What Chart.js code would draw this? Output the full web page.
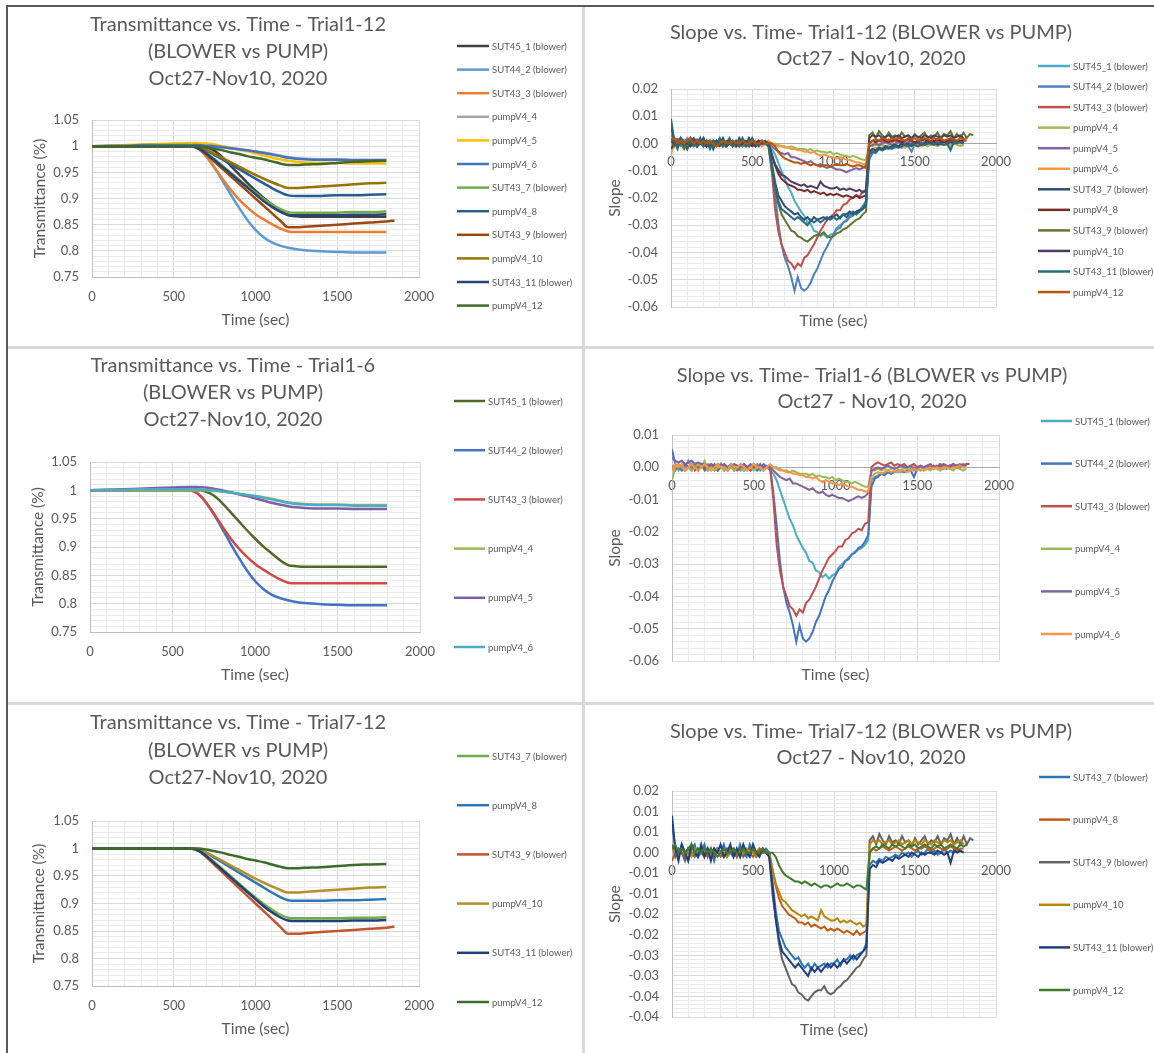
<!DOCTYPE html>
<html>
<head>
<meta charset="utf-8">
<script src="https://cdn.jsdelivr.net/npm/chart.js@4.4.1/dist/chart.umd.min.js"></script>
<style>
  html, body { margin: 0; padding: 0; background: #fff; }
  body { width: 1154px; height: 1053px; position: relative; overflow: hidden; }
  .panel { position: absolute; }
  .panel canvas { display: block; }
  .line { position: absolute; z-index: 5; }
</style>
</head>
<body>
<div class="panel" style="left:7px;top:6px"><canvas id="c1" width="576" height="341"></canvas></div>
<div class="panel" style="left:584px;top:6px"><canvas id="c2" width="570" height="341"></canvas></div>
<div class="panel" style="left:7px;top:348px"><canvas id="c3" width="576" height="355"></canvas></div>
<div class="panel" style="left:584px;top:348px"><canvas id="c4" width="570" height="355"></canvas></div>
<div class="panel" style="left:7px;top:704px"><canvas id="c5" width="576" height="349"></canvas></div>
<div class="panel" style="left:584px;top:704px"><canvas id="c6" width="570" height="349"></canvas></div>

<div class="line" style="left:8px;top:346px;width:1146px;height:3px;background:#d9d9d9"></div>
<div class="line" style="left:8px;top:702px;width:1146px;height:3px;background:#d9d9d9"></div>
<div class="line" style="left:582px;top:7px;width:3px;height:1046px;background:#d9d9d9"></div>
<div class="line" style="left:6px;top:5px;width:1148px;height:2px;background:#5a5a5a"></div>
<div class="line" style="left:6px;top:5px;width:2px;height:1048px;background:#5a5a5a"></div>

<script>
// series names (trials 1-12)
const seriesNames = ['SUT45_1 (blower)', 'SUT44_2 (blower)', 'SUT43_3 (blower)', 'pumpV4_4', 'pumpV4_5', 'pumpV4_6',
  'SUT43_7 (blower)', 'pumpV4_8', 'SUT43_9 (blower)', 'pumpV4_10', 'SUT43_11 (blower)', 'pumpV4_12'];

// transmittance readings
const transTime = [0, 100, 200, 300, 400, 500, 600, 650, 700, 750, 800, 850, 900, 950, 1000, 1050, 1100, 1150, 1200, 1250, 1300, 1400, 1500, 1600, 1700, 1800, 1850];
const transSUT45_1 = [1.000, 1.000, 1.000, 1.000, 1.000, 1.000, 1.000, 1.000, 0.998, 0.991, 0.978, 0.962, 0.946, 0.930, 0.915, 0.901, 0.889, 0.877, 0.868, 0.866, 0.865, 0.865, 0.865, 0.865, 0.865, 0.865, null];
const transSUT44_2 = [1.000, 1.000, 1.000, 1.000, 1.000, 1.000, 1.000, 0.995, 0.980, 0.958, 0.933, 0.907, 0.882, 0.859, 0.840, 0.826, 0.816, 0.810, 0.806, 0.803, 0.801, 0.799, 0.798, 0.797, 0.797, 0.797, null];
const transSUT43_3 = [1.000, 1.000, 1.000, 1.000, 1.000, 1.000, 1.000, 0.995, 0.980, 0.959, 0.937, 0.916, 0.898, 0.883, 0.870, 0.860, 0.851, 0.843, 0.837, 0.836, 0.836, 0.836, 0.836, 0.836, 0.836, 0.836, null];
const transPump4 = [1.000, 1.000, 1.000, 1.000, 1.000, 1.000, 1.000, 1.000, 1.000, 0.999, 0.998, 0.996, 0.994, 0.992, 0.990, 0.988, 0.985, 0.982, 0.979, 0.977, 0.976, 0.975, 0.975, 0.974, 0.974, 0.974, null];
const transPump5 = [1.000, 1.001, 1.002, 1.003, 1.004, 1.005, 1.006, 1.006, 1.005, 1.003, 1.000, 0.997, 0.993, 0.990, 0.986, 0.982, 0.978, 0.975, 0.972, 0.970, 0.969, 0.968, 0.968, 0.967, 0.967, 0.967, null];
const transPump6 = [1.000, 1.001, 1.001, 1.002, 1.002, 1.002, 1.002, 1.002, 1.001, 1.000, 0.998, 0.996, 0.994, 0.992, 0.990, 0.987, 0.984, 0.981, 0.978, 0.976, 0.975, 0.974, 0.974, 0.973, 0.973, 0.973, null];
const transSUT43_7 = [1.000, 1.000, 1.000, 1.000, 1.000, 1.000, 1.000, 0.997, 0.987, 0.975, 0.962, 0.949, 0.936, 0.923, 0.911, 0.899, 0.889, 0.880, 0.874, 0.873, 0.873, 0.873, 0.873, 0.874, 0.874, 0.875, null];
const transPump8 = [1.000, 1.000, 1.000, 1.000, 1.000, 1.000, 1.000, 0.998, 0.992, 0.983, 0.974, 0.965, 0.956, 0.947, 0.938, 0.929, 0.920, 0.912, 0.906, 0.905, 0.905, 0.905, 0.906, 0.906, 0.907, 0.908, null];
const transSUT43_9 = [1.000, 1.000, 1.000, 1.000, 1.000, 1.000, 1.000, 0.996, 0.984, 0.970, 0.956, 0.942, 0.928, 0.914, 0.900, 0.886, 0.872, 0.858, 0.845, 0.845, 0.846, 0.848, 0.850, 0.852, 0.854, 0.856, 0.858];
const transPump10 = [1.000, 1.000, 1.000, 1.000, 1.000, 1.000, 1.000, 0.999, 0.993, 0.985, 0.977, 0.969, 0.961, 0.953, 0.945, 0.938, 0.931, 0.925, 0.920, 0.920, 0.921, 0.923, 0.925, 0.927, 0.929, 0.930, null];
const transSUT43_11 = [1.000, 1.000, 1.000, 1.000, 1.000, 1.000, 1.000, 0.996, 0.986, 0.973, 0.960, 0.947, 0.934, 0.921, 0.908, 0.895, 0.884, 0.875, 0.869, 0.868, 0.868, 0.868, 0.868, 0.869, 0.869, 0.870, null];
const transPump12 = [1.000, 1.000, 1.000, 1.000, 1.000, 1.000, 1.000, 1.000, 0.998, 0.995, 0.992, 0.988, 0.985, 0.981, 0.978, 0.975, 0.971, 0.967, 0.964, 0.964, 0.965, 0.966, 0.968, 0.970, 0.971, 0.972, null];

// slope readings
const slopeTime = [0, 20, 40, 60, 80, 100, 120, 140, 160, 180, 200, 220, 240, 260, 280, 300, 320, 340, 360, 380,
  400, 420, 440, 460, 480, 500, 520, 540, 560, 580, 600, 620, 640, 660, 680, 700, 720, 740, 760, 780,
  800, 820, 840, 860, 880, 900, 920, 940, 960, 980, 1000, 1020, 1040, 1060, 1080, 1100, 1120, 1140, 1160, 1180,
  1200, 1220, 1240, 1260, 1280, 1300, 1320, 1340, 1360, 1380, 1400, 1420, 1440, 1460, 1480, 1500, 1520, 1540, 1560, 1580,
  1600, 1620, 1640, 1660, 1680, 1700, 1720, 1740, 1760, 1780, 1800, 1820, 1840, 1860];
const slopeSUT45_1 = [
  0.000, 0.001, -0.001, 0.001, 0.000, 0.002, 0.000, 0.001, -0.001, 0.001,
  0.000, 0.001, 0.000, -0.001, 0.001, 0.000, 0.001, -0.001, 0.000, 0.001,
  0.000, -0.001, 0.001, 0.000, -0.001, 0.000, 0.001, -0.001, 0.000, 0.000,
  -0.001, -0.002, -0.004, -0.007, -0.010, -0.013, -0.016, -0.018, -0.021, -0.023,
  -0.025, -0.0265, -0.029, -0.0295, -0.032, -0.0325, -0.034, -0.0332, -0.0345, -0.0335,
  -0.033, -0.031, -0.030, -0.029, -0.028, -0.027, -0.026, -0.0255, -0.025, -0.024,
  -0.0225, -0.004, -0.003, -0.0025, -0.002, -0.002, -0.0015, -0.002, -0.0015, -0.001,
  -0.0015, -0.001, -0.001, -0.0005, -0.001, -0.0005, 0.000, -0.001, -0.0005, 0.000,
  -0.0005, 0.000, 0.0005, -0.0005, 0.000, 0.0005, 0.000, 0.000, 0.0005, 0.000,
  0.0005, null, null, null];
const slopeSUT44_2 = [
  0.0055, 0.001, 0.000, -0.001, 0.001, 0.000, -0.001, 0.001, 0.000, 0.001,
  -0.001, 0.000, 0.001, 0.000, -0.001, 0.001, -0.001, 0.000, 0.001, -0.001,
  0.000, 0.001, -0.001, 0.000, 0.001, 0.000, -0.001, 0.000, 0.001, 0.000,
  0.000, -0.008, -0.018, -0.029, -0.037, -0.042, -0.045, -0.049, -0.054, -0.049,
  -0.053, -0.054, -0.053, -0.051, -0.048, -0.046, -0.043, -0.040, -0.038, -0.0355,
  -0.0335, -0.0315, -0.031, -0.029, -0.0285, -0.027, -0.0265, -0.025, -0.0245, -0.023,
  -0.021, -0.006, -0.0035, -0.003, -0.002, -0.0025, -0.0015, -0.002, -0.001, -0.0015,
  -0.001, -0.0015, -0.001, -0.001, -0.003, -0.0005, -0.001, 0.000, -0.0005, 0.000,
  -0.0005, 0.000, 0.0005, 0.000, -0.0005, 0.0005, 0.000, 0.0005, 0.000, 0.0005,
  0.001, null, null, null];
const slopeSUT43_3 = [
  0.000, -0.001, 0.001, 0.000, -0.001, 0.000, 0.001, -0.001, 0.000, 0.001,
  0.000, -0.001, 0.000, 0.001, -0.001, 0.000, 0.000, -0.001, 0.001, 0.000,
  -0.001, 0.000, 0.001, 0.000, -0.001, 0.000, 0.000, 0.001, -0.001, 0.000,
  0.000, -0.010, -0.024, -0.032, -0.037, -0.040, -0.043, -0.044, -0.046, -0.044,
  -0.045, -0.042, -0.041, -0.039, -0.037, -0.0345, -0.032, -0.030, -0.028, -0.027,
  -0.026, -0.0245, -0.0245, -0.0225, -0.022, -0.0205, -0.020, -0.019, -0.0195, -0.0175,
  -0.017, 0.000, 0.001, 0.0015, 0.001, 0.0005, 0.001, 0.0015, 0.0005, 0.001,
  0.0005, 0.001, 0.000, 0.0005, 0.001, 0.000, 0.0005, 0.000, 0.0005, 0.001,
  0.000, 0.0005, 0.000, 0.001, 0.0005, 0.000, 0.001, 0.0005, 0.001, 0.0005,
  0.001, 0.001, null, null];
const slopePump4 = [
  -0.004, 0.000, 0.001, 0.000, -0.001, 0.000, -0.001, 0.000, 0.001, 0.000,
  0.002, -0.001, 0.000, -0.001, 0.000, 0.000, -0.001, 0.000, 0.000, -0.001,
  0.000, 0.000, -0.001, 0.000, 0.000, -0.001, 0.000, 0.000, 0.000, 0.000,
  0.000, 0.000, 0.000, -0.0005, -0.001, -0.001, -0.0015, -0.001, -0.0015, -0.002,
  -0.002, -0.002, -0.0025, -0.002, -0.003, -0.0025, -0.003, -0.003, -0.0035, -0.003,
  -0.004, -0.0035, -0.004, -0.0045, -0.0045, -0.005, -0.0045, -0.005, -0.0055, -0.006,
  -0.006, -0.001, -0.001, -0.0005, -0.001, -0.0005, -0.001, -0.0005, 0.000, -0.0005,
  -0.001, 0.000, -0.0005, -0.001, 0.000, -0.0005, -0.001, 0.000, -0.0005, -0.001,
  0.000, -0.0005, -0.001, -0.0005, 0.000, -0.0005, -0.001, 0.000, -0.0005, -0.001,
  -0.0005, null, null, null];
const slopePump5 = [
  0.003, 0.002, 0.0015, 0.002, 0.001, 0.0015, 0.002, 0.001, 0.0015, 0.001,
  0.001, 0.0005, 0.001, 0.000, 0.001, 0.0005, 0.001, 0.000, 0.0005, 0.001,
  0.0005, 0.000, 0.001, 0.000, 0.0005, 0.001, 0.000, 0.0005, 0.000, 0.0005,
  0.000, -0.001, -0.002, -0.003, -0.0035, -0.004, -0.0035, -0.005, -0.005, -0.0055,
  -0.006, -0.0065, -0.007, -0.0065, -0.0075, -0.008, -0.0075, -0.0085, -0.009, -0.0085,
  -0.009, -0.0095, -0.0095, -0.010, -0.0105, -0.010, -0.0095, -0.009, -0.0095, -0.009,
  -0.008, -0.001, -0.0005, 0.000, -0.0005, 0.000, 0.0005, 0.000, -0.0005, 0.000,
  0.0005, 0.000, 0.000, 0.0005, -0.0005, 0.000, 0.0005, 0.000, 0.0005, 0.000,
  0.0005, 0.000, 0.001, 0.0005, 0.000, 0.0005, 0.001, 0.000, 0.0005, 0.001,
  0.0005, null, null, null];
const slopePump6 = [
  -0.001, 0.001, 0.000, 0.001, -0.001, 0.000, 0.001, 0.000, -0.001, 0.000,
  0.001, 0.000, -0.001, 0.000, 0.001, 0.000, 0.000, -0.001, 0.001, 0.000,
  0.000, 0.001, 0.000, -0.001, 0.000, 0.001, 0.000, 0.000, -0.001, 0.000,
  0.001, 0.000, -0.0005, -0.001, -0.001, -0.0015, -0.0015, -0.002, -0.002, -0.0025,
  -0.0025, -0.003, -0.003, -0.0035, -0.003, -0.004, -0.0045, -0.004, -0.0045, -0.005,
  -0.005, -0.0055, -0.005, -0.0055, -0.006, -0.006, -0.0065, -0.007, -0.007, -0.0075,
  -0.0075, -0.003, -0.002, -0.0015, -0.002, -0.0015, -0.001, -0.0015, -0.001, -0.0015,
  -0.001, -0.001, -0.0015, -0.001, -0.0005, -0.001, -0.0005, -0.001, -0.0005, 0.000,
  -0.0005, 0.000, -0.0005, 0.000, 0.000, -0.0005, 0.000, 0.000, 0.0005, 0.000,
  0.000, null, null, null];
const slopeSUT43_7 = [
  0.007, 0.001, -0.001, 0.002, 0.000, -0.002, 0.001, 0.002, -0.001, 0.000,
  0.002, -0.001, 0.001, -0.002, 0.001, 0.000, 0.002, -0.001, 0.000, 0.001,
  -0.001, 0.002, 0.000, -0.001, 0.002, 0.000, -0.001, 0.001, 0.000, 0.001,
  0.000, -0.007, -0.014, -0.019, -0.021, -0.023, -0.024, -0.025, -0.026, -0.0255,
  -0.027, -0.028, -0.027, -0.0285, -0.027, -0.028, -0.0275, -0.027, -0.028, -0.027,
  -0.027, -0.026, -0.0275, -0.026, -0.026, -0.025, -0.026, -0.025, -0.0245, -0.024,
  -0.022, -0.003, -0.002, -0.0025, -0.0015, -0.002, -0.001, -0.0015, -0.001, -0.0005,
  -0.001, 0.000, -0.0005, 0.000, -0.001, 0.000, 0.0005, -0.0005, 0.000, 0.001,
  0.000, 0.0005, -0.0005, 0.000, 0.001, 0.000, 0.0005, 0.000, 0.001, 0.0005,
  0.000, null, null, null];
const slopePump8 = [
  -0.002, 0.000, 0.001, 0.000, -0.001, 0.001, 0.000, 0.000, -0.001, 0.001,
  0.000, -0.001, 0.000, 0.001, 0.000, -0.001, 0.000, 0.000, 0.001, 0.000,
  -0.001, 0.000, 0.001, 0.000, 0.000, -0.001, 0.000, 0.001, 0.000, 0.000,
  0.000, -0.004, -0.008, -0.011, -0.013, -0.014, -0.015, -0.0155, -0.016, -0.017,
  -0.017, -0.0175, -0.017, -0.018, -0.0175, -0.018, -0.0185, -0.018, -0.019, -0.0185,
  -0.019, -0.0185, -0.019, -0.0195, -0.019, -0.0195, -0.020, -0.019, -0.020, -0.0195,
  -0.019, 0.000, 0.001, 0.0005, 0.001, 0.0015, 0.001, 0.0005, 0.001, 0.0015,
  0.001, 0.0005, 0.001, 0.0015, 0.001, 0.0005, 0.001, 0.001, 0.0015, 0.001,
  0.0005, 0.001, 0.0015, 0.001, 0.0005, 0.001, 0.0015, 0.001, 0.0005, 0.001,
  0.001, null, null, null];
const slopeSUT43_9 = [
  0.002, -0.001, 0.001, 0.000, -0.002, 0.001, 0.000, -0.001, 0.001, 0.000,
  -0.001, 0.001, 0.000, -0.001, 0.001, 0.000, -0.001, 0.001, 0.000, -0.001,
  0.000, 0.001, -0.001, 0.000, 0.001, 0.000, -0.001, 0.000, 0.001, 0.000,
  -0.001, -0.010, -0.016, -0.022, -0.026, -0.028, -0.030, -0.032, -0.0325, -0.034,
  -0.0345, -0.0355, -0.036, -0.035, -0.034, -0.0335, -0.0335, -0.0325, -0.034, -0.0345,
  -0.034, -0.033, -0.0325, -0.0315, -0.031, -0.030, -0.029, -0.028, -0.0275, -0.026,
  -0.025, 0.003, 0.004, 0.002, 0.0045, 0.003, 0.002, 0.004, 0.0025, 0.003,
  0.002, 0.004, 0.0025, 0.003, 0.0015, 0.0035, 0.002, 0.003, 0.004, 0.002,
  0.003, 0.0025, 0.004, 0.002, 0.0035, 0.003, 0.0045, 0.002, 0.0035, 0.002,
  0.004, 0.002, 0.0035, 0.003];
const slopePump10 = [
  0.001, 0.000, -0.001, 0.001, 0.000, 0.000, -0.001, 0.001, 0.000, 0.000,
  0.001, 0.000, -0.001, 0.000, 0.001, 0.000, 0.000, -0.001, 0.000, 0.001,
  0.000, -0.001, 0.000, 0.001, 0.000, 0.000, -0.001, 0.000, 0.001, 0.000,
  0.000, -0.004, -0.0075, -0.0095, -0.0115, -0.012, -0.013, -0.014, -0.0145, -0.015,
  -0.0155, -0.015, -0.016, -0.0155, -0.016, -0.0165, -0.014, -0.0155, -0.016, -0.0165,
  -0.0165, -0.016, -0.017, -0.0165, -0.017, -0.0165, -0.017, -0.0175, -0.017, -0.018,
  -0.0175, 0.002, 0.003, 0.0025, 0.003, 0.002, 0.0025, 0.003, 0.002, 0.0025,
  0.003, 0.002, 0.0025, 0.003, 0.002, 0.003, 0.0025, 0.002, 0.003, 0.0025,
  0.002, 0.003, 0.0025, 0.002, 0.003, 0.0025, 0.003, 0.002, 0.0025, 0.003,
  0.002, null, null, null];
const slopeSUT43_11 = [
  0.009, 0.001, -0.002, 0.002, 0.000, -0.002, 0.002, 0.000, -0.001, 0.002,
  -0.001, 0.001, -0.002, 0.001, 0.000, 0.002, -0.001, 0.000, 0.002, -0.001,
  0.001, -0.001, 0.002, 0.000, -0.001, 0.002, 0.000, -0.001, 0.001, 0.000,
  -0.001, -0.008, -0.016, -0.021, -0.024, -0.025, -0.026, -0.027, -0.028, -0.027,
  -0.028, -0.029, -0.030, -0.028, -0.029, -0.028, -0.029, -0.028, -0.027, -0.028,
  -0.027, -0.028, -0.027, -0.026, -0.027, -0.026, -0.025, -0.026, -0.025, -0.024,
  -0.023, -0.004, -0.003, -0.0035, -0.002, -0.0025, -0.002, -0.0015, -0.002, -0.001,
  -0.0015, -0.001, -0.0005, -0.001, 0.000, -0.0005, -0.001, 0.000, -0.0005, 0.000,
  0.000, -0.0005, 0.0005, 0.000, -0.0005, 0.000, -0.0025, 0.0005, 0.000, 0.0005,
  0.000, null, null, null];
const slopePump12 = [
  0.001, 0.002, 0.000, 0.001, 0.000, 0.001, 0.002, 0.000, 0.001, 0.000,
  0.001, 0.000, 0.001, 0.000, -0.001, 0.000, 0.001, 0.000, 0.000, 0.001,
  0.000, 0.000, 0.001, 0.000, 0.000, 0.001, 0.000, 0.000, 0.001, 0.000,
  0.000, 0.000, -0.001, -0.003, -0.0045, -0.0055, -0.006, -0.0065, -0.007, -0.007,
  -0.0075, -0.007, -0.0075, -0.008, -0.0075, -0.008, -0.0085, -0.008, -0.008, -0.0085,
  -0.008, -0.0075, -0.008, -0.008, -0.0075, -0.008, -0.0085, -0.008, -0.008, -0.0085,
  -0.009, 0.000, 0.001, 0.0015, 0.001, 0.002, 0.0015, 0.001, 0.002, 0.0015,
  0.002, 0.0015, 0.001, 0.002, 0.0015, 0.002, 0.001, 0.0015, 0.002, 0.0015,
  0.001, 0.002, 0.0015, 0.002, 0.001, 0.0015, 0.002, 0.0015, 0.001, 0.002,
  0.0015, 0.002, null, null];

const transSeries = [transSUT45_1, transSUT44_2, transSUT43_3, transPump4, transPump5, transPump6,
  transSUT43_7, transPump8, transSUT43_9, transPump10, transSUT43_11, transPump12];
const slopeSeries = [slopeSUT45_1, slopeSUT44_2, slopeSUT43_3, slopePump4, slopePump5, slopePump6,
  slopeSUT43_7, slopePump8, slopeSUT43_9, slopePump10, slopeSUT43_11, slopePump12];

Chart.defaults.font.family = "Lato, 'Open Sans', sans-serif";
Chart.defaults.color = '#595959';

const TEXT = '#595959';
const TITLE_SIZE = 20;
const AXIS_TITLE_SIZE = 15.5;
const TICK_SIZE = 13;
const LEGEND_SIZE = 9.5;

function onStep(v, step) {
  const r = v / step;
  return Math.abs(r - Math.round(r)) < 1e-6;
}
function fmtGeneral(v) { return String(Math.round(v * 100) / 100); }
function fmtFixed2(v) {
  const a = Math.round(Math.abs(v) * 100 + 1e-9) / 100;
  return (v < -1e-12 ? '-' : '') + a.toFixed(2);
}

// title lines + legend drawn like the Excel chart
function makeDecor(p) {
  return {
    id: 'decor',
    afterDraw(chart) {
      const ctx = chart.ctx;
      ctx.save();
      ctx.fillStyle = TEXT;
      ctx.textBaseline = 'middle';
      ctx.textAlign = 'center';
      ctx.font = TITLE_SIZE + "px Lato";
      p.title.forEach((t, i) => ctx.fillText(t, p.titleX, p.titleY + i * p.titleStep));
      ctx.textAlign = 'left';
      ctx.font = LEGEND_SIZE + "px Lato";
      chart.data.datasets.forEach((ds, i) => {
        const y = p.leg.y + i * p.leg.step;
        ctx.strokeStyle = ds.borderColor;
        ctx.lineWidth = 2.5;
        ctx.beginPath();
        ctx.moveTo(p.leg.x1, y);
        ctx.lineTo(p.leg.x2, y);
        ctx.stroke();
        ctx.fillText(ds.label, p.leg.x2 + 3, y + 0.5);
      });
      ctx.restore();
    }
  };
}

function gridFor(major) {
  return {
    color: c => (c.tick && onStep(c.tick.value, major)) ? '#d9d9d9' : '#ebebeb',
    lineWidth: 1,
    drawTicks: false
  };
}

function makeChart(p) {
  const lh = AXIS_TITLE_SIZE * 1.2;
  const padLeft = p.yTitleX - lh / 2 - 4;
  const yW = p.area.l - padLeft;
  const xTitleBottom = p.xTitleY + lh / 2 + 4;
  const xH = xTitleBottom - p.area.b;
  const slope = p.kind === 'slope';
  const time = slope ? slopeTime : transTime;
  const values = slope ? slopeSeries : transSeries;

  const datasets = p.idx.map((k, i) => ({
    label: seriesNames[k],
    data: values[k],
    borderColor: p.colors[i],
    backgroundColor: p.colors[i],
    borderWidth: slope ? 2 : 2.5,
    pointRadius: 0,
    cubicInterpolationMode: slope ? 'default' : 'monotone',
    tension: 0,
    order: 100 - i,
    xAxisID: 'x',
    yAxisID: 'y'
  }));

  const axisTitle = text => ({
    display: true, text: text, color: TEXT,
    font: { size: AXIS_TITLE_SIZE }, padding: { top: 4, bottom: 4 }
  });

  const scales = {
    x: {
      type: 'linear', min: 0, max: 2000,
      position: slope ? { y: 0 } : 'bottom',
      ticks: {
        stepSize: 100, autoSkip: false, maxRotation: 0, minRotation: 0,
        padding: slope ? 10.7 : 12, color: TEXT, font: { size: TICK_SIZE },
        callback: v => onStep(v, 500) ? String(v) : ''
      },
      grid: gridFor(500),
      border: { color: slope ? '#a6a6a6' : '#bfbfbf' }
    },
    y: {
      type: 'linear', min: p.yMin, max: p.yMax,
      afterFit: s => { s.width = yW; },
      ticks: {
        stepSize: p.yMinor, autoSkip: false, padding: 13, color: TEXT, font: { size: TICK_SIZE },
        callback: v => onStep(v, p.yMajor) ? (slope ? fmtFixed2(v) : fmtGeneral(v)) : ''
      },
      grid: gridFor(p.yMajor),
      border: { color: '#bfbfbf' },
      title: axisTitle(slope ? 'Slope' : 'Transmittance (%)')
    }
  };
  if (slope) {
    scales.xt = {
      type: 'linear', position: 'bottom', min: 0, max: 2000,
      afterFit: s => { s.height = xH; },
      ticks: { display: false },
      grid: { display: false },
      border: { display: false },
      title: axisTitle('Time (sec)')
    };
  } else {
    scales.x.afterFit = s => { s.height = xH; };
    scales.x.title = axisTitle('Time (sec)');
  }

  return new Chart(document.getElementById(p.canvas), {
    type: 'line',
    data: { labels: time, datasets: datasets },
    options: {
      responsive: false,
      animation: false,
      devicePixelRatio: 1,
      events: [],
      layout: {
        padding: {
          left: padLeft,
          right: p.w - p.area.r,
          top: p.area.t,
          bottom: p.h - xTitleBottom
        }
      },
      plugins: { legend: { display: false }, title: { display: false }, tooltip: { enabled: false } },
      scales: scales
    },
    plugins: [makeDecor(p)]
  });
}

const panels = [
  {
    canvas: 'c1', w: 576, h: 341, kind: 'trans', idx: [0, 1, 2, 3, 4, 5, 6, 7, 8, 9, 10, 11],
    colors: ['#404040', '#5B9BD5', '#ED7D31', '#A5A5A5', '#FFC000', '#4472C4', '#70AD47', '#255E91', '#9E480E', '#997300', '#264478', '#43682B'],
    yMin: 0.75, yMax: 1.05, yMinor: 0.01, yMajor: 0.05,
    area: { l: 85, r: 412, t: 114, b: 271 },
    title: ['Transmittance vs. Time - Trial1-12', '(BLOWER vs PUMP)', 'Oct27-Nov10, 2020'],
    titleX: 231, titleY: 19, titleStep: 27,
    leg: { x1: 450, x2: 482, y: 40, step: 23.6 }, yTitleX: 33, xTitleY: 314
  },
  {
    canvas: 'c2', w: 570, h: 341, kind: 'slope', idx: [0, 1, 2, 3, 4, 5, 6, 7, 8, 9, 10, 11],
    colors: ['#4BACC6', '#4F81BD', '#C0504D', '#9BBB59', '#8064A2', '#F79646', '#2C4D75', '#772C2A', '#5F7530', '#4D3B62', '#276A7C', '#B65708'],
    yMin: -0.06, yMax: 0.02, yMinor: 0.002, yMajor: 0.01,
    area: { l: 87, r: 412, t: 83, b: 301 },
    title: ['Slope vs. Time- Trial1-12 (BLOWER vs PUMP)', 'Oct27 - Nov10, 2020'],
    titleX: 287, titleY: 27, titleStep: 25.5,
    leg: { x1: 454, x2: 486, y: 60, step: 20.55 }, yTitleX: 31, xTitleY: 315
  },
  {
    canvas: 'c3', w: 576, h: 355, kind: 'trans', idx: [0, 1, 2, 3, 4, 5],
    colors: ['#4F6A28', '#4472C4', '#D04A45', '#9BBB59', '#7E5FA6', '#4BACC6'],
    yMin: 0.75, yMax: 1.05, yMinor: 0.01, yMajor: 0.05,
    area: { l: 83, r: 413, t: 114, b: 284 },
    title: ['Transmittance vs. Time - Trial1-6', '(BLOWER vs PUMP)', 'Oct27-Nov10, 2020'],
    titleX: 226, titleY: 18, titleStep: 27,
    leg: { x1: 447, x2: 478, y: 53, step: 49.2 }, yTitleX: 31, xTitleY: 327
  },
  {
    canvas: 'c4', w: 570, h: 355, kind: 'slope', idx: [0, 1, 2, 3, 4, 5],
    colors: ['#4BACC6', '#4472C4', '#C0504D', '#9BBB59', '#8064A2', '#F79646'],
    yMin: -0.06, yMax: 0.01, yMinor: 0.002, yMajor: 0.01,
    area: { l: 88, r: 415, t: 87, b: 313 },
    title: ['Slope vs. Time- Trial1-6 (BLOWER vs PUMP)', 'Oct27 - Nov10, 2020'],
    titleX: 288, titleY: 28, titleStep: 26,
    leg: { x1: 457, x2: 488, y: 73, step: 42.6 }, yTitleX: 31, xTitleY: 327
  },
  {
    canvas: 'c5', w: 576, h: 349, kind: 'trans', idx: [6, 7, 8, 9, 10, 11],
    colors: ['#70AD47', '#2E75B6', '#C0562A', '#B58E2A', '#203F7A', '#3D6B2A'],
    yMin: 0.75, yMax: 1.05, yMinor: 0.01, yMajor: 0.05,
    area: { l: 85, r: 412, t: 117, b: 282 },
    title: ['Transmittance vs. Time - Trial7-12', '(BLOWER vs PUMP)', 'Oct27-Nov10, 2020'],
    titleX: 231, titleY: 19, titleStep: 27.5,
    leg: { x1: 450, x2: 482, y: 52, step: 49.2 }, yTitleX: 32, xTitleY: 325
  },
  {
    canvas: 'c6', w: 570, h: 349, kind: 'slope', idx: [6, 7, 8, 9, 10, 11],
    colors: ['#2E75B6', '#C55A11', '#636363', '#B8860B', '#203F7F', '#3E7B2E'],
    yMin: -0.04, yMax: 0.015, yMinor: 0.001, yMajor: 0.005,
    area: { l: 88, r: 412, t: 87, b: 313 },
    title: ['Slope vs. Time- Trial7-12 (BLOWER vs PUMP)', 'Oct27 - Nov10, 2020'],
    titleX: 287, titleY: 28, titleStep: 26,
    leg: { x1: 455, x2: 486, y: 73, step: 42.6 }, yTitleX: 31, xTitleY: 326
  }
];

panels.forEach(makeChart);
</script>
</body>
</html>
